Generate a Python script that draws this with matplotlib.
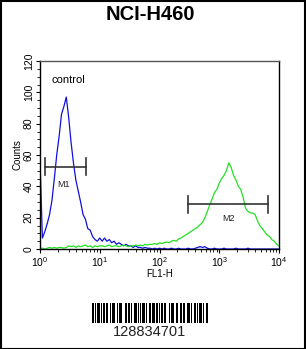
import numpy as np
import matplotlib
matplotlib.use("Agg")
import matplotlib.pyplot as plt
from matplotlib.ticker import MultipleLocator, LogLocator, NullFormatter
from matplotlib.patches import Rectangle

plt.rcParams['font.family'] = ['Liberation Sans', 'DejaVu Sans']
plt.rcParams['mathtext.fontset'] = 'custom'
plt.rcParams['mathtext.rm'] = 'Liberation Sans'
plt.rcParams['mathtext.it'] = 'Liberation Sans'

title = "NCI-H460"
sample_id = "128834701"

# channel positions (log10 FL1-H), 101 channels over 4 decades
log_channels = np.linspace(0, 4, 101)

control_counts = [
    57, 7, 11, 16, 22, 31, 45, 60, 72, 86,
    91, 97, 84, 68, 55, 44, 37, 30, 22, 19,
    13, 12, 8, 6, 5, 7, 5, 7, 5, 6,
    4, 5, 3, 4, 3, 2, 3, 2, 2, 1,
    2, 1, 1, 0.5, 1, 0.5, 0.5, 0, 0.5, 0,
    0.5, 0, 0.5, 0, 0, 0.5, 0, 0, 0.5, 0,
    0, 0, 0.5, 0, 0, 0.5, 1, 1.5, 1, 1.5,
    0.5, 0, 0, 0.5, 0, 0, 0, 0.5, 0, 0,
    0, 0, 0.5, 0, 0, 0, 0, 0.5, 0, 0,
    0, 0, 0, 0, 0, 0, 0, 0, 0, 0, 0,
]

sample_counts = [
    0.5, 0.5, 0, 0.5, 1, 0.5, 1, 0.5, 1, 1, 0.5,
    1, 2, 1.5, 2, 1, 2, 1.5, 2, 2.5, 1.5, 2, 1, 2, 1.5, 2,
    2, 1.5, 2, 2.5, 1.5, 2, 2, 1.5, 2, 2.5, 2, 1.5, 2, 2, 2.5,
    2, 2.5, 2, 3, 2.5, 3, 3, 3.5, 3, 4,
    3.5, 4, 4.5, 4, 5, 5.5, 5, 6.5, 7, 8,
    9, 10, 11, 12, 13, 14, 15.5, 17, 20, 24,
    28, 32, 36, 38, 42, 45, 47, 50, 55, 52,
    47, 44, 40, 38, 33, 26, 24, 23, 23, 22,
    18, 15, 13, 11, 9, 8, 6, 5, 3, 2,
]

# markers: (label, start, end, level, label position, label level)
markers = [
    ("M1", 1.21, 6.0, 52.5, 2.45, 41),
    ("M2", 303, 6600, 28.5, 1450, 19.5),
]

# barcode module widths (alternating bar / space)
barcode_widths = [2, 1, 1, 1, 3, 1, 1, 2, 2, 1, 2, 2, 1, 1, 3, 2, 1, 1, 2, 1,
                  1, 3, 2, 1, 2, 1, 1, 2, 3, 1, 1, 1, 2, 1, 3, 1, 1, 2, 2, 1,
                  3, 1, 2, 1, 1, 2, 2, 1, 2, 3, 1, 1, 3, 2, 2, 1, 1, 1, 2, 1,
                  2, 2, 3, 1, 1, 2, 2, 1, 2, 1, 3, 1, 1, 2, 2]

W, H = 306, 349
fig = plt.figure(figsize=(W / 100, H / 100), dpi=100)

ax = fig.add_axes([40 / W, 1 - 249 / H, 239 / W, 188 / H])
x = 10 ** log_channels
ax.plot(np.concatenate([[1.0], x]), np.concatenate([[0], control_counts]),
        color='#1010e0', lw=0.9)
ax.plot(x, sample_counts, color='#22e022', lw=0.9)

for lab, x0, x1, lvl, lx, ly in markers:
    ax.plot([x0, x1], [lvl, lvl], color='#333333', lw=1.2)
    ax.plot([x0, x0], [lvl - 5.5, lvl + 5.5], color='#333333', lw=1.2)
    ax.plot([x1, x1], [lvl - 5.5, lvl + 5.5], color='#333333', lw=1.2)
    ax.text(lx, ly, lab, fontsize=6.5, ha='center', va='center', color='#222222')

ax.text(1.55, 108, "control", fontsize=8, ha='left', va='center')

ax.set_xscale('log')
ax.set_xlim(1, 1e4)
ax.set_ylim(0, 120)
ax.yaxis.set_major_locator(MultipleLocator(20))
ax.yaxis.set_minor_locator(MultipleLocator(5))
ax.xaxis.set_major_locator(LogLocator(base=10, numticks=10))
ax.xaxis.set_minor_locator(LogLocator(base=10, subs=np.arange(2, 10), numticks=10))
ax.xaxis.set_minor_formatter(NullFormatter())
ax.tick_params(axis='both', which='major', labelsize=7.5, length=3, width=0.8, pad=1.5)
ax.tick_params(axis='both', which='minor', length=2, width=0.6)
for t in ax.get_yticklabels():
    t.set_rotation(90)
    t.set_va('center')
ax.set_ylabel("Counts", fontsize=7, labelpad=1)
ax.set_xlabel("FL1-H", fontsize=7, labelpad=0)
for s in ['left', 'bottom', 'right']:
    ax.spines[s].set_linewidth(1.0)
    ax.spines[s].set_color('black')
ax.spines['top'].set_color('#555555')
ax.spines['top'].set_linewidth(1.0)

fig.text(150 / W, 1 - 15 / H, title, fontsize=14.5, fontweight='bold',
         ha='center', va='center')

# barcode
bax = fig.add_axes([92 / W, 1 - 323 / H, 116 / W, 20 / H])
pos = 0
for i, w in enumerate(barcode_widths):
    if i % 2 == 0:
        bax.add_patch(Rectangle((pos, 0), w, 1, color='black', lw=0))
    pos += w
bax.set_xlim(0, pos)
bax.set_ylim(0, 1)
bax.axis('off')
fig.text(150 / W, 1 - 332 / H, sample_id, fontsize=10.5, ha='center',
         va='center', color='#222222')

fig.add_artist(Rectangle((0.5 / W, 0.5 / H), 1 - 1.5 / W, 1 - 1.5 / H,
                         transform=fig.transFigure, fill=False,
                         edgecolor='black', lw=1.5))

fig.savefig("out.png", dpi=100)
